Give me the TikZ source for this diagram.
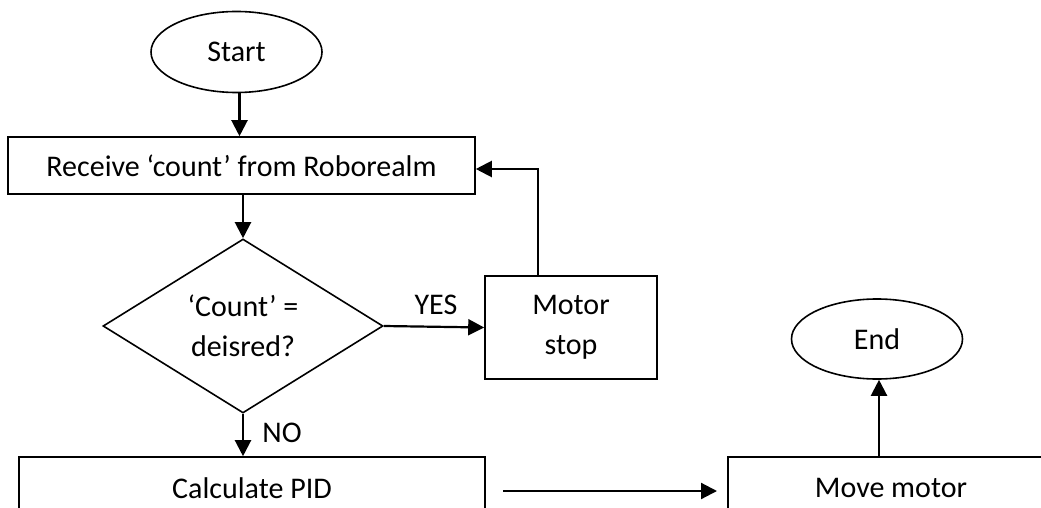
\documentclass[tikz,border=0pt]{standalone}
\usepackage{fontspec}
\setmainfont{Carlito}
\usetikzlibrary{shapes.geometric,arrows.meta,calc}
\tikzset{
  shapeline/.style={draw=black,line width=1.6pt,inner sep=0pt,align=center,font=\fontsize{30}{40}\selectfont},
  procbox/.style={shapeline,rectangle},
  term/.style={shapeline,ellipse},
  decide/.style={shapeline,diamond},
  conn/.style={draw=black,line width=2.2pt,-{Triangle[length=16pt,width=16pt]}},
  lbl/.style={font=\fontsize{30}{40}\selectfont,inner sep=0pt}
}
\begin{document}
\begin{tikzpicture}[x=1pt,y=-1pt]
\useasboundingbox (0,0) rectangle (1041,508);
\clip (0,0) rectangle (1041,508);
\node[term,minimum width=171pt,minimum height=81pt] (start) at (236.5,52) {Start};
\node[procbox,minimum width=467pt,minimum height=57pt] (recv) at (241.5,165.5) {Receive ‘count’ from Roborealm};
\node[decide,minimum width=280pt,minimum height=174pt,aspect=1.61] (dec) at (243,326) {‘Count’ =\\deisred?};
\node[procbox,minimum width=172pt,minimum height=103pt] (stop) at (571,327.5) {Motor\\stop};
\node[procbox,minimum width=466pt,minimum height=62pt] (calc) at (252,488) {Calculate PID};
\node[procbox,minimum width=326pt,minimum height=62pt] (move) at (891,488) {Move motor};
\node[term,minimum width=171pt,minimum height=80pt] (end) at (877,339) {End};
\coordinate (pa) at (503,491);
\coordinate (pb) at (717,491);
\draw[conn] ([xshift=3pt]start.south) -- ([xshift=3pt]start.south |- recv.north);
\draw[conn] (recv.south -| dec.north) -- (dec.north);
\draw[conn] (dec.east) -- (stop.west);
\draw[conn] ([xshift=-33pt]stop.north) |- ([yshift=-3.5pt]recv.east);
\draw[conn] (dec.south) -- (dec.south |- calc.north);
\draw[conn] (pa) -- (pb);
\draw[conn] ([xshift=2pt]end.south |- move.north) -- ([xshift=2pt]end.south);
\node[lbl] (yes) at (436,305) {YES};
\node[lbl] (no) at (282,433) {NO};
\end{tikzpicture}
\end{document}
